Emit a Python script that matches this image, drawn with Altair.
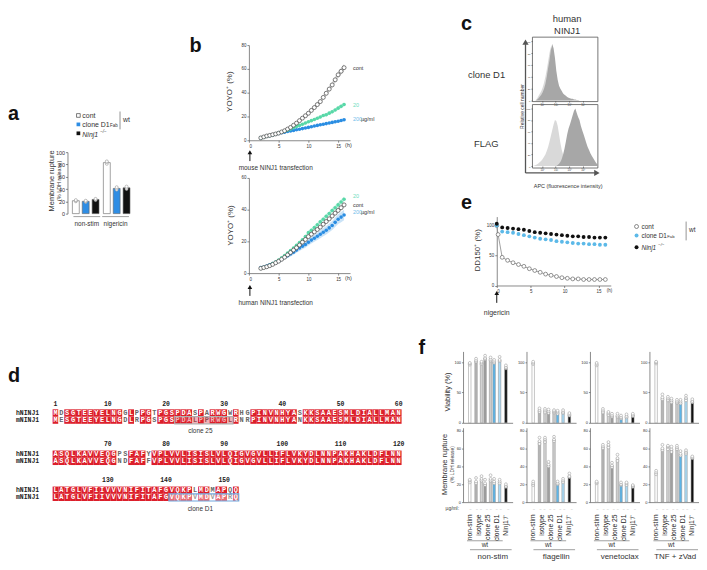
import altair as alt
import pandas as pd

FONT = "Liberation Sans"
MONO = "Liberation Mono"
INK = "#333333"
OX, OY = 8, 8
W, H = 697, 554

# ---------------- data: panel a ----------------
A_groups = ["non-stim", "nigericin"]
A_conds = ["cont", "clone D1 Fab", "Ninj1-/-"]
A_vals = [[21, 20, 23], [83, 41, 42]]
A_reps = [[[20, 21, 22], [19, 20, 21], [22, 23, 24]],
          [[81, 84, 85], [39, 41, 43], [40, 42, 44]]]

# ---------------- data: panel b ----------------
B_t = [2.0, 2.5, 3.0, 3.5, 4.0, 4.5, 5.0, 5.5, 6.0, 6.5, 7.0, 7.5, 8.0, 8.5, 9.0,
       9.5, 10.0, 10.5, 11.0, 11.5, 12.0, 12.5, 13.0, 13.5, 14.0, 14.5, 15.0, 15.5, 16.0]
B1_cont = [2.0, 2.8, 3.6, 4.1, 4.7, 5.3, 6.0, 7.0, 8.0, 9.4, 10.8, 12.6, 14.4, 16.5, 18.6,
           20.6, 22.7, 25.1, 27.5, 30.0, 32.5, 36.0, 39.5, 43.0, 46.5, 50.8, 55.0, 58.0, 61.0]
B1_cont_err = [0.3, 0.4, 0.4, 0.5, 0.5, 0.6, 0.6, 0.7, 0.8, 0.9, 1.0, 1.1, 1.2, 1.3, 1.4,
               1.5, 1.6, 1.7, 1.8, 1.9, 2.0, 2.1, 2.2, 2.3, 2.4, 2.5, 2.6, 2.8, 3.0]
B1_20 = [2.0, 2.6, 3.3, 3.9, 4.5, 5.2, 6.0, 6.8, 7.5, 8.5, 9.5, 10.5, 11.5, 12.5, 13.5,
         14.5, 15.5, 16.5, 17.5, 18.5, 19.5, 20.8, 21.5, 22.8, 24.0, 25.5, 27.0, 28.5, 30.0]
B1_20_err = [0.3, 0.3, 0.4, 0.4, 0.5, 0.5, 0.6, 0.6, 0.7, 0.7, 0.8, 0.8, 0.9, 0.9, 1.0,
             1.0, 1.1, 1.1, 1.2, 1.2, 1.3, 1.3, 1.4, 1.4, 1.5, 1.5, 1.6, 1.6, 1.7]
B1_200 = [2.0, 2.6, 3.3, 3.9, 4.5, 5.1, 5.8, 6.3, 6.8, 7.3, 7.8, 8.3, 8.8, 9.3, 9.8,
          10.3, 10.8, 11.4, 12.0, 12.5, 13.0, 13.5, 14.0, 14.5, 15.0, 15.5, 16.0, 16.6, 17.2]
B1_200_err = [0.3, 0.3, 0.3, 0.4, 0.4, 0.4, 0.5, 0.5, 0.5, 0.6, 0.6, 0.6, 0.7, 0.7, 0.7,
              0.8, 0.8, 0.8, 0.9, 0.9, 0.9, 1.0, 1.0, 1.0, 1.1, 1.1, 1.1, 1.2, 1.2]

B2_cont = [3.0, 3.5, 4.0, 4.7, 5.5, 6.5, 7.5, 8.7, 10.0, 11.5, 13.0, 14.5, 16.0, 17.7, 19.5,
           21.2, 23.0, 24.5, 26.0, 27.5, 29.0, 30.8, 32.5, 34.2, 36.0, 37.8, 39.5, 41.2, 43.0]
B2_cont_err = [0.3, 0.3, 0.4, 0.4, 0.5, 0.5, 0.6, 0.6, 0.7, 0.7, 0.8, 0.8, 0.9, 0.9, 1.0,
               1.0, 1.1, 1.1, 1.2, 1.2, 1.3, 1.3, 1.4, 1.4, 1.5, 1.5, 1.6, 1.6, 1.7]
B2_20 = [3.0, 3.6, 4.2, 5.0, 6.0, 7.0, 8.2, 9.6, 11.0, 12.6, 14.2, 15.8, 17.5, 19.3, 21.0,
         23.0, 25.5, 27.0, 28.8, 30.5, 32.3, 34.0, 35.8, 37.5, 39.5, 41.2, 43.0, 44.8, 46.6]
B2_20_err = [0.3, 0.3, 0.4, 0.4, 0.5, 0.5, 0.6, 0.6, 0.7, 0.7, 0.8, 0.8, 0.9, 0.9, 1.0,
             1.0, 1.1, 1.1, 1.2, 1.2, 1.3, 1.3, 1.4, 1.4, 1.5, 1.5, 1.6, 1.6, 1.7]
B2_200 = [3.5, 3.8, 4.5, 5.2, 6.0, 6.8, 7.5, 8.7, 10.0, 11.0, 12.0, 13.2, 14.5, 15.8, 17.0,
          18.0, 19.5, 20.8, 22.0, 23.2, 24.5, 25.8, 27.0, 28.5, 30.0, 32.0, 34.0, 35.3, 36.6]
B2_200_err = [0.5, 0.6, 0.7, 0.8, 0.9, 1.0, 1.1, 1.2, 1.3, 1.4, 1.5, 1.6, 1.7, 1.8, 1.9,
              2.0, 2.1, 2.2, 2.3, 2.4, 2.5, 2.6, 2.7, 2.8, 2.9, 3.0, 3.1, 3.2, 3.3]

# ---------------- data: panel c (flow histograms, log10 APC) ----------------
C_x = [1.35, 1.45, 1.55, 1.65, 1.75, 1.85, 1.95, 2.05, 2.15, 2.25, 2.35, 2.45, 2.55, 2.65,
       2.75, 2.85, 2.95, 3.05, 3.15, 3.25, 3.35, 3.45, 3.55, 3.65, 3.75, 3.85, 3.95, 4.05,
       4.15, 4.25, 4.35, 4.45, 4.55, 4.65, 4.75, 4.85, 4.95, 5.05, 5.15, 5.25, 5.35, 5.45,
       5.55, 5.65, 5.75, 5.85, 5.95, 6.05]
C1_light = [0, 0, 1, 4, 8, 12, 16, 22, 30, 40, 52, 66, 80, 90, 82, 62, 42, 28, 20, 14, 10, 8,
            6, 5, 4, 3, 2, 2, 1, 0, 0, 0, 0, 0, 0, 0, 0, 0, 0, 0, 0, 0, 0, 0, 0, 0, 0, 0]
C1_dark = [0, 0, 0, 2, 4, 7, 10, 14, 20, 28, 40, 55, 68, 85, 95, 88, 72, 50, 35, 25, 20, 16,
           12, 10, 8, 6, 5, 4, 3, 3, 2, 2, 1, 1, 0, 0, 0, 0, 0, 0, 0, 0, 0, 0, 0, 0, 0, 0]
C2_light = [0, 1, 2, 3, 5, 7, 9, 12, 16, 20, 26, 33, 42, 52, 62, 72, 80, 78, 70, 55, 40, 28,
            20, 14, 10, 7, 5, 3, 2, 1, 0, 0, 0, 0, 0, 0, 0, 0, 0, 0, 0, 0, 0, 0, 0, 0, 0, 0]
C2_dark = [0, 0, 0, 0, 0, 0, 0, 0, 0, 0, 0, 0, 0, 0, 0, 0, 0, 0, 2, 4, 7, 12, 20, 30, 42, 55,
           65, 72, 80, 88, 96, 100, 92, 85, 80, 70, 62, 55, 48, 40, 33, 28, 22, 18, 14, 10, 6, 3]

# ---------------- data: panel d (alignment) ----------------
D_h = ["MDSGTEEYELNGGLPPGTPGSPDASPARWGWRHGPINVNHYASKKSAAESMLDIALLMAN",
       "ASQLKAVVEQGPSFAFYVPLVVLISISLVLQIGVGVLLIFLVKYDLNNPAKHAKLDFLNN",
       "LATGLVFIIVVVNIFITAFGVQKPLMDMAPQQ"]
D_m = ["MESGTEEYELNGDLRPGSPGSPDALPPRWGLRNRPINVNHYANKKSAAESMLDIALLMAN",
       "ASQLKAVVEQGNDFAFFVPLVVLISISLVLQIGVGVLLIFLVKYDLNNPAKHAKLDFLNN",
       "LATGLVFIIVVVNIFITAFGVQKPVMDVAPRQ"]
D_start = [1, 61, 121]
D_epitopes = [("clone 25", 0, 22, 31), ("clone D1", 2, 21, 32)]   # (name, block, first pos, last pos)

# ---------------- data: panel e ----------------
E_t = [0, 0.8, 1.6, 2.4, 3.2, 4.0, 4.8, 5.6, 6.4, 7.2, 8.0, 8.8, 9.6, 10.4, 11.2, 12.0,
       12.8, 13.6, 14.4, 15.2, 16.0]
E_t_cont = [0, 0.2, 0.8, 1.6, 2.4, 3.2, 4.0, 4.8, 5.6, 6.4, 7.2, 8.0, 8.8, 9.6, 10.4, 11.2,
            12.0, 12.8, 13.6, 14.4, 15.2, 16.0]
E_cont = [100, 85, 47, 42, 38, 35, 32, 28, 25, 22, 19, 17, 15, 13, 12, 11, 11, 10, 10, 10, 10, 10]
E_d1 = [100, 90, 89, 88, 86, 84, 82, 80, 78, 77, 76, 74, 73, 72, 71, 70, 70, 69, 69, 68, 68]
E_ko = [103, 97, 96, 95, 94, 93, 91, 89, 88, 87, 86, 85, 84, 83, 82, 82, 81, 81, 80, 80, 80]

# ---------------- data: panel f ----------------
F_stims = ["non-stim", "flagellin", "venetoclax", "TNF + zVad"]
F_groups = ["non-stim", "isotype", "clone 25", "clone D1", "Ninj1⁻/⁻"]
F_bar_group = ["non-stim", "isotype", "isotype", "clone 25", "clone 25", "clone D1", "clone D1", "Ninj1⁻/⁻"]
F_bar_sub = ["c", "a", "b", "a", "b", "a", "b", "c"]
F_bar_cls = ["ns", "iso1", "iso2", "c25a", "c25b", "d1a", "d1b", "ko"]
F_viab = [[98, 103, 99, 107, 105, 101, 104, 92],
          [99, 21, 20, 19, 19, 18, 18, 14],
          [97, 20, 16, 12, 12, 9, 11, 13],
          [100, 42, 40, 37, 35, 35, 41, 36]]
F_ldh = [[24, 23, 26, 21, 26, 23, 23, 18],
         [21, 68, 70, 42, 70, 21, 24, 29],
         [22, 62, 64, 41, 49, 20, 21, 18],
         [33, 60, 62, 59, 61, 54, 56, 50]]
F_viab_reps = [
    [[96, 98, 99], [101, 103, 106], [97, 99, 101], [105, 107, 111], [103, 105, 108], [99, 101, 104], [102, 104, 109], [90, 92, 95]],
    [[97, 99, 101], [18, 21, 24], [17, 20, 23], [16, 19, 22], [17, 19, 21], [15, 18, 20], [16, 18, 21], [12, 14, 16]],
    [[95, 97, 99], [17, 20, 23], [13, 16, 18], [10, 12, 15], [10, 12, 15], [7, 9, 12], [9, 11, 14], [11, 13, 15]],
    [[98, 100, 101], [39, 42, 47], [37, 40, 43], [34, 37, 40], [33, 35, 38], [32, 35, 38], [37, 41, 45], [34, 36, 39]]]
F_ldh_reps = [
    [[22, 24, 25], [21, 23, 27], [24, 26, 29], [19, 21, 25], [24, 26, 30], [21, 23, 26], [21, 23, 25], [17, 18, 20]],
    [[19, 21, 23], [65, 68, 72], [67, 70, 72], [40, 42, 45], [68, 70, 73], [20, 21, 23], [22, 24, 26], [28, 29, 32]],
    [[21, 22, 23], [60, 62, 64], [61, 64, 67], [39, 41, 44], [46, 49, 53], [19, 20, 22], [19, 21, 22], [17, 18, 19]],
    [[31, 33, 35], [58, 60, 64], [59, 62, 63], [56, 59, 62], [59, 61, 63], [52, 54, 57], [54, 56, 58], [49, 50, 51]]]

# ================= helpers (layout) =================
def X(v): return v - OX
def Y(v): return v - OY

def sx(dom, a, b):
    return alt.Scale(domain=dom, range=[X(a), X(b)], nice=False, zero=False)

def sy(dom, bot, top):
    return alt.Scale(domain=dom, range=[Y(bot), Y(top)], nice=False, zero=False)

def bandx(dom, a, b, pi=0.1, po=0.05):
    return alt.Scale(type="band", domain=dom, range=[X(a), X(b)], paddingInner=pi, paddingOuter=po)

BASE_AX = dict(grid=False, title=None, labelFont=FONT, labelColor=INK, domainColor="#555",
               tickColor="#555", domainWidth=0.7, tickWidth=0.7, labelPadding=1)

def axb(ypix, values=None, size=4.5, tick=2.0, **kw):
    d = dict(BASE_AX, orient="bottom", offset=Y(ypix) - H, labelFontSize=size, tickSize=tick)
    if values is not None:
        d["values"] = values
    d.update(kw)
    return alt.Axis(**d)

def axl(xpix, values=None, size=4.5, tick=2.0, **kw):
    d = dict(BASE_AX, orient="left", offset=-X(xpix), labelFontSize=size, tickSize=tick)
    if values is not None:
        d["values"] = values
    d.update(kw)
    return alt.Axis(**d)

ONE = pd.DataFrame({"k": [0]})

def T(rows, size=8, color=INK, angle=0, align="left", baseline="alphabetic",
      weight="normal", style="normal", font=FONT):
    df = pd.DataFrame(rows, columns=["x", "y", "t"])
    df["x"] = df["x"] - OX
    df["y"] = df["y"] - OY
    return alt.Chart(df).mark_text(font=font, fontSize=size, color=color, angle=angle, align=align,
                                   baseline=baseline, fontWeight=weight, fontStyle=style).encode(
        x=alt.X("x:Q", scale=None, axis=None), y=alt.Y("y:Q", scale=None, axis=None), text="t:N")

def seg(x1, y1, x2, y2, color=INK, w=0.8):
    return alt.Chart(ONE).mark_rule(color=color, strokeWidth=w).encode(
        x=alt.value(X(x1)), y=alt.value(Y(y1)), x2=alt.value(X(x2)), y2=alt.value(Y(y2)))

def mk(x, y, shape, size, fill, stroke=None, sw=0.8):
    kw = dict(shape=shape, size=size, fill=fill, filled=True, opacity=1)
    if stroke:
        kw.update(stroke=stroke, strokeWidth=sw)
    return alt.Chart(ONE).mark_point(**kw).encode(x=alt.value(X(x)), y=alt.value(Y(y)))

def box(x1, y1, x2, y2, stroke="#555", w=0.8, fill="#ffffff", fo=0.0):
    return alt.Chart(ONE).mark_rect(stroke=stroke, strokeWidth=w, fill=fill, fillOpacity=fo).encode(
        x=alt.value(X(x1)), y=alt.value(Y(y1)), x2=alt.value(X(x2)), y2=alt.value(Y(y2)))

L = []

# ================= panel a =================
dfA = pd.DataFrame([{"g": g, "c": c, "v": A_vals[i][j]}
                    for i, g in enumerate(A_groups) for j, c in enumerate(A_conds)])
dfAr = pd.DataFrame([{"g": g, "c": c, "v": r}
                     for i, g in enumerate(A_groups) for j, c in enumerate(A_conds) for r in A_reps[i][j]])
a_x = bandx(A_groups, 72, 132, pi=0.14, po=0.03)
a_xo = alt.Scale(type="band", domain=A_conds, paddingInner=0.3)
a_y = sy([0, 100], 213, 151)
a_fill = alt.Scale(domain=A_conds, range=["#ffffff", "#2e8de4", "#111111"])
a_bars = alt.Chart(dfA).mark_bar(stroke="#666", strokeWidth=0.6).encode(
    x=alt.X("g:N", scale=a_x, axis=None),
    xOffset=alt.XOffset("c:N", scale=a_xo),
    y=alt.Y("v:Q", scale=a_y, axis=axl(68, [0, 20, 40, 60, 80, 100], size=5.5)),
    fill=alt.Fill("c:N", scale=a_fill, legend=None))
a_pts = alt.Chart(dfAr).mark_point(shape="circle", size=9, stroke="#999", strokeWidth=0.6,
                                   fill="#ffffff", filled=True, opacity=1).encode(
    x=alt.X("g:N", scale=a_x, axis=None),
    xOffset=alt.XOffset("c:N", scale=a_xo),
    y=alt.Y("v:Q", scale=a_y))
L.append(alt.layer(a_bars, a_pts))
L += [seg(74, 216, 101, 216, "#777", 0.7), seg(103, 216, 130, 216, "#777", 0.7)]
L.append(T([(87.5, 225, "non-stim"), (116.5, 225, "nigericin")], size=6.5, align="center"))
L.append(T([(52, 180, "Membrane rupture")], size=7.5, angle=270, align="center", baseline="middle"))
L.append(T([(59, 180, "(% LDH release)")], size=5.5, angle=270, align="center", baseline="middle"))
L += [mk(79, 114, "square", 14, "#ffffff", "#444", 0.7), mk(79, 123, "square", 14, "#2e8de4"),
      mk(79, 132, "square", 14, "#111111")]
L.append(T([(83, 117, "cont"), (83, 126, "clone D1")], size=7))
L.append(T([(111, 126, "Fab")], size=4.5))
L.append(T([(83, 135.5, "Ninj1")], size=7, style="italic"))
L.append(T([(101, 132, "−/−")], size=4.5, style="italic"))
L.append(seg(121, 110, 121, 128, "#666", 0.7))
L.append(T([(124, 121, "wt")], size=7))

# ================= panel b =================
def b_panel(cont, cerr, g20, gerr, b200, berr, ybot, ytop, ymax, yticks):
    rows = []
    for name, vals, errs in (("cont", cont, cerr), ("20", g20, gerr), ("200", b200, berr)):
        for t, v, e in zip(B_t, vals, errs):
            rows.append({"s": name, "t": t, "v": v, "lo": v - e, "hi": v + e})
    df = pd.DataFrame(rows)
    xs_ = sx([0, 17], 251, 353)
    ys_ = sy([0, ymax], ybot, ytop)
    xa = axb(ybot, [0, 5, 10, 15], size=4.5)
    ya = axl(251, yticks, size=4.5)
    layers = []
    for name, col in (("200", "#c4e0f6"), ("20", "#c3f0de"), ("cont", "#cfcfcf")):
        layers.append(alt.Chart(df).transform_filter(alt.datum.s == name).mark_area(
            color=col, opacity=0.9).encode(
            x=alt.X("t:Q", scale=xs_, axis=xa), y=alt.Y("lo:Q", scale=ys_, axis=ya), y2="hi:Q"))
    for name, col in (("200", "#2a8de2"), ("20", "#58d8a8")):
        layers.append(alt.Chart(df).transform_filter(alt.datum.s == name).mark_circle(
            color=col, size=13, opacity=1).encode(
            x=alt.X("t:Q", scale=xs_, axis=xa), y=alt.Y("v:Q", scale=ys_, axis=ya)))
    layers.append(alt.Chart(df).transform_filter(alt.datum.s == "cont").mark_point(
        shape="circle", size=16, filled=True, fill="#ffffff", stroke="#444", strokeWidth=0.7,
        opacity=1).encode(
        x=alt.X("t:Q", scale=xs_, axis=xa), y=alt.Y("v:Q", scale=ys_, axis=ya)))
    return alt.layer(*layers)

L.append(b_panel(B1_cont, B1_cont_err, B1_20, B1_20_err, B1_200, B1_200_err, 139, 43, 80, [0, 20, 40, 60, 80]))
L.append(b_panel(B2_cont, B2_cont_err, B2_20, B2_20_err, B2_200, B2_200_err, 273, 177, 60, [0, 20, 40, 60]))
L.append(T([(356, 68, "cont"), (356, 206, "cont"), (364, 120, "µg/ml"), (364, 213, "µg/ml"),
            (348, 146, "(h)"), (348, 280, "(h)")], size=5.5))
L.append(T([(356, 105, "20"), (356, 197, "20")], size=5.5, color="#6fdcbc"))
L.append(T([(356, 120, "200"), (356, 213, "200")], size=5.5, color="#72bdea"))
L.append(T([(232, 90, "YOYO⁺ (%)"), (233, 225, "YOYO⁺ (%)")], size=8, angle=270, align="center", baseline="middle"))
L += [seg(252, 160, 252, 151, "#111", 1.0), mk(252, 151, "triangle-up", 22, "#111"),
      seg(252, 296, 252, 287, "#111", 1.0), mk(252, 287, "triangle-up", 22, "#111")]
L.append(T([(278, 169, "mouse NINJ1 transfection"), (278, 305, "human NINJ1 transfection")],
           size=6.5, align="center"))

# ================= panel c =================
def c_panel(light, dark, ybot, ytop):
    df = pd.DataFrame({"x": C_x, "light": light, "dark": dark})
    xs_ = sx([1.3, 6.1], 537, 603)
    ys_ = sy([0, 105], ybot - 1, ytop)
    xa = axb(ybot - 1, [2, 3, 4, 5], size=2.8, tick=1.5,
             labelExpr="['', '', '10²', '10³', '10⁴', '10⁵'][datum.value]", domain=False)
    ya = axl(537, [0, 20, 40, 60, 80, 100], size=2.5, tick=1.5, domain=False)
    l1 = alt.Chart(df).mark_area(color="#d9d9d9", opacity=1).encode(
        x=alt.X("x:Q", scale=xs_, axis=xa), y=alt.Y("light:Q", scale=ys_, axis=ya))
    l2 = alt.Chart(df).mark_area(color="#a7a7a7", opacity=1).encode(
        x=alt.X("x:Q", scale=xs_, axis=xa), y=alt.Y("dark:Q", scale=ys_, axis=ya))
    return alt.layer(l1, l2)

L.append(c_panel(C1_light, C1_dark, 100, 36))
L.append(c_panel(C2_light, C2_dark, 166, 104))
L += [box(537, 35, 603, 100, "#555", 0.8), box(537, 103, 603, 167, "#555", 0.8)]
L += [seg(530, 172, 530, 42, "#555", 1.3), mk(530, 40, "triangle-up", 40, "#555"),
      seg(530, 172, 600, 172, "#555", 1.3), mk(602, 172, "triangle-right", 40, "#555")]
L.append(T([(572, 20, "human"), (572, 32, "NINJ1")], size=9.5, align="center"))
L.append(T([(472, 76, "clone D1"), (478, 146, "FLAG")], size=9.5))
L.append(T([(526, 105, "Relative cell number")], size=5, angle=270, align="center", baseline="middle"))
L.append(T([(573, 187, "APC (fluorescence intensity)")], size=5.5, align="center"))

# ================= panel d =================
d_x = sx([0.5, 60.5], 53, 405)
D_block_top = [403.1, 444.7, 481.0]      # pixel top of each block (number row)
D_row_h = 7.3
D_num_band = [0.25, 0.12, 0.15]
for b in range(3):
    top = D_block_top[b]
    d_y = alt.Scale(type="band", domain=["n", "h", "m"], range=[Y(top), Y(top + 3 * D_row_h)],
                    paddingInner=0, paddingOuter=0)
    cells = []
    for i, (ch, cm) in enumerate(zip(D_h[b], D_m[b])):
        k = "id" if ch == cm else "diff"
        cells.append({"row": "h", "p": i + 1, "aa": ch, "k": k})
        cells.append({"row": "m", "p": i + 1, "aa": cm, "k": k})
    dfD = pd.DataFrame(cells)
    d_rect = alt.Chart(dfD).transform_calculate(x0="datum.p - 0.5", x1="datum.p + 0.5").mark_rect(
        strokeWidth=0).encode(
        x=alt.X("x0:Q", scale=d_x, axis=None), x2="x1:Q",
        y=alt.Y("row:N", scale=d_y, axis=None),
        fill=alt.Fill("k:N", scale=alt.Scale(domain=["id", "diff"], range=["#dc1f2b", "#ffffff"]), legend=None))
    d_txt = alt.Chart(dfD).mark_text(font=MONO, fontSize=7, fontWeight="bold", baseline="middle").encode(
        x=alt.X("p:Q", scale=d_x, axis=None),
        y=alt.Y("row:N", scale=d_y, axis=None, bandPosition=0.5),
        text="aa:N",
        color=alt.Color("k:N", scale=alt.Scale(domain=["id", "diff"], range=["#ffffff", "#666666"]), legend=None))
    nums = []
    for p in range(1, len(D_h[b]) + 1):
        r = D_start[b] + p - 1
        if r == 1 or r % 10 == 0:
            nums.append({"row": "n", "p": p, "lab": str(r)})
    d_num = alt.Chart(pd.DataFrame(nums)).mark_text(font=MONO, fontSize=6.5, fontWeight="bold",
                                                    baseline="middle", color="#222").encode(
        x=alt.X("p:Q", scale=d_x, axis=None),
        y=alt.Y("row:N", scale=d_y, axis=None, bandPosition=D_num_band[b]),
        text="lab:N")
    d_lab = alt.Chart(pd.DataFrame({"row": ["h", "m"], "lab": ["hNINJ1", "mNINJ1"]})).mark_text(
        font=MONO, fontSize=6.5, fontWeight="bold", baseline="middle", align="left", color="#222").encode(
        x=alt.value(X(16)), y=alt.Y("row:N", scale=d_y, axis=None, bandPosition=0.5), text="lab:N")
    parts = [d_rect, d_txt, d_num, d_lab]
    eps = [e for e in D_epitopes if e[1] == b]
    if eps:
        dfO = pd.DataFrame({"row": ["m"] * len(eps), "p0": [e[2] - 0.5 for e in eps],
                            "p1": [e[3] + 0.5 for e in eps], "k": [e[0] for e in eps]})
        parts.append(alt.Chart(dfO).mark_rect(strokeWidth=1.2, fillOpacity=0.35).encode(
            x=alt.X("p0:Q", scale=d_x, axis=None), x2="p1:Q",
            y=alt.Y("row:N", scale=d_y, axis=None),
            fill=alt.Fill("k:N", scale=alt.Scale(domain=["clone 25", "clone D1"], range=["#9a9a9a", "#8ab8e8"]), legend=None),
            stroke=alt.Stroke("k:N", scale=alt.Scale(domain=["clone 25", "clone D1"], range=["#b0b0b0", "#6fa6de"]), legend=None)))
    L.append(alt.layer(*parts))
L.append(T([(202, 434, "clone 25"), (202, 513, "clone D1")], size=6.5, align="center"))

# ================= panel e =================
e_x = sx([0, 16.8], 501, 616)
e_y = sy([0, 115], 285.5, 216)
e_xa = axb(285.5, [0, 5, 10, 15], size=4.5)
e_ya = axl(501, [0, 50, 100], size=4.5)
dfEc = pd.DataFrame({"t": E_t_cont, "v": E_cont})
dfE = pd.DataFrame({"t": E_t + E_t, "v": E_d1 + E_ko, "s": ["d1"] * len(E_t) + ["ko"] * len(E_t)})
e_line = alt.Chart(dfEc).mark_line(color="#888", strokeWidth=0.8).encode(
    x=alt.X("t:Q", scale=e_x, axis=e_xa), y=alt.Y("v:Q", scale=e_y, axis=e_ya))
e_cont = alt.Chart(dfEc).mark_point(shape="circle", size=15, filled=True, fill="#ffffff",
                                    stroke="#666", strokeWidth=0.7, opacity=1).encode(
    x=alt.X("t:Q", scale=e_x, axis=e_xa), y=alt.Y("v:Q", scale=e_y, axis=e_ya))
e_d1 = alt.Chart(dfE).transform_filter(alt.datum.s == "d1").mark_circle(size=15, color="#5cb9e8", opacity=1).encode(
    x=alt.X("t:Q", scale=e_x, axis=e_xa), y=alt.Y("v:Q", scale=e_y, axis=e_ya))
e_ko = alt.Chart(dfE).transform_filter(alt.datum.s == "ko").mark_circle(size=15, color="#111111", opacity=1).encode(
    x=alt.X("t:Q", scale=e_x, axis=e_xa), y=alt.Y("v:Q", scale=e_y, axis=e_ya))
L.append(alt.layer(e_line, e_cont, e_d1, e_ko))
L.append(T([(612, 292.5, "(h)")], size=4.5))
L.append(T([(482, 250, "DD150⁺ (%)")], size=8, angle=270, align="center", baseline="middle"))
L += [seg(501, 303, 501, 293, "#111", 1.0), mk(501, 293, "triangle-up", 22, "#111")]
L.append(T([(501, 315, "nigericin")], size=7, align="center"))
L += [mk(642, 226, "circle", 16, "#ffffff", "#555", 0.7), mk(642, 235, "circle", 16, "#5cb9e8"),
      mk(642, 247, "circle", 16, "#111111")]
L.append(T([(647, 228.5, "cont"), (647, 237.5, "clone D1")], size=6.5))
L.append(T([(673, 238, "Fab")], size=4.2))
L.append(T([(647, 249.5, "Ninj1")], size=6.5, style="italic"))
L.append(T([(664, 246, "−/−")], size=4.2, style="italic"))
L.append(seg(692, 221, 692, 240, "#666", 0.7))
L.append(T([(695, 232, "wt")], size=6.5))

# ================= panel f =================
F_X = [467, 531, 595, 655]
F_fill = alt.Scale(domain=F_bar_cls,
                   range=["#ffffff", "#b5b5b5", "#d3d3d3", "#9f9f9f", "#cdcdcd", "#5db5e8", "#a9d9f4", "#111111"])
F_label_x = [497, 561, 625, 681]
for si, stim in enumerate(F_stims):
    x0 = F_X[si]
    fx = bandx(F_groups, x0, x0 + 50, pi=0.12, po=0.3)
    fxo = alt.Scale(type="band", domain=["a", "c", "b"], paddingInner=0.1)
    for metric, vals, reps, ybot, ytop, ymax, ticks in (
            ("viab", F_viab[si], F_viab_reps[si], 424, 352, 118, [0, 50, 100]),
            ("ldh", F_ldh[si], F_ldh_reps[si], 504, 429, 83, [0, 20, 40, 60, 80])):
        fy = sy([0, ymax], ybot, ytop)
        dfb = pd.DataFrame({"g": F_bar_group, "s": F_bar_sub, "c": F_bar_cls, "v": vals})
        dfr = pd.DataFrame([{"g": F_bar_group[j], "s": F_bar_sub[j], "v": r}
                            for j in range(8) for r in reps[j]])
        if metric == "ldh":
            xa = axb(ybot, None, size=6.8, tick=0, ticks=False, labelAngle=270, labelPadding=12,
                     labelAlign="right", labelBaseline="middle", labelColor="#222")
        else:
            xa = axb(ybot, None, ticks=False, labels=False)
        ya = axl(x0, ticks, size=4, tick=1.5)
        fb = alt.Chart(dfb).mark_bar(stroke="#8a8a8a", strokeWidth=0.5).encode(
            x=alt.X("g:N", scale=fx, axis=xa, sort=F_groups),
            xOffset=alt.XOffset("s:N", scale=fxo),
            y=alt.Y("v:Q", scale=fy, axis=ya),
            fill=alt.Fill("c:N", scale=F_fill, legend=None))
        fp = alt.Chart(dfr).mark_point(shape="circle", size=8, filled=True, fill="#ffffff",
                                       stroke="#a0a0a0", strokeWidth=0.6, opacity=1).encode(
            x=alt.X("g:N", scale=fx, axis=xa, sort=F_groups),
            xOffset=alt.XOffset("s:N", scale=fxo),
            y=alt.Y("v:Q", scale=fy, axis=ya))
        L.append(alt.layer(fb, fp))
    L += [seg(x0 + 4, 543, x0 + 40, 543, "#777", 0.7), seg(x0 + 7, 552, x0 + 49, 552, "#777", 0.7)]
    L.append(T([(x0 + 22, 549.5, "wt")], size=6.5, align="center"))
    L.append(T([(F_label_x[si], 561, stim)], size=8, align="center"))
    L.append(T([(x0 + 7.5, 512, "–"), (x0 + 14, 512, "–"), (x0 + 18, 512, "–"), (x0 + 24, 512, "–"),
                (x0 + 28, 512, "–"), (x0 + 34, 512, "–"), (x0 + 38, 512, "–"), (x0 + 45.5, 512, "–")],
               size=3.5, align="center", color="#999"))
L.append(T([(463, 512, "µg/ml:")], size=5, align="right"))
L.append(T([(452, 393, "Viability (%)")], size=7.5, angle=270, align="center", baseline="middle"))
L.append(T([(449, 466, "Membrane rupture")], size=7.5, angle=270, align="center", baseline="middle"))
L.append(T([(456, 466, "(% LDH release)")], size=5, angle=270, align="center", baseline="middle"))

# ================= panel letters =================
L.append(T([(8, 119, "a"), (191, 50, "b"), (8, 383, "d"), (465, 208, "e"), (422, 355, "f")],
           size=20, weight="bold", color="#111"))
L.append(T([(465, 12, "c")], size=20, weight="bold", color="#111", baseline="top"))

chart = alt.layer(*L).resolve_scale(
    x="independent", y="independent", xOffset="independent", fill="independent",
    stroke="independent", color="independent").properties(
    width=W, height=H, autosize=alt.AutoSizeParams(type="none"), padding=0,
    background="#ffffff").configure_view(stroke=None)

chart.save("out.html", embed_options={"renderer": "svg", "actions": False})
